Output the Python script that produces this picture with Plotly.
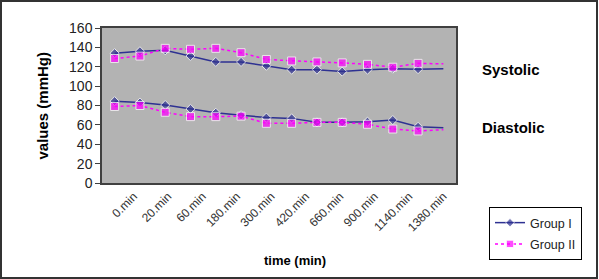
import numpy as np
import plotly.graph_objects as go

# ---- data ----
tick_labels = ["0.min", "20.min", "60.min", "180.min", "300.min", "420.min",
               "660.min", "900.min", "1140.min", "1380.min"]
n_points = 14
g1_systolic = [134, 136, 137, 131, 125, 125, 121, 117, 117, 115, 117, 118, 117.5, 118]
g2_systolic = [128.5, 131, 139, 138, 139, 134.5, 127.5, 126, 125, 124, 122.5, 119.5, 123.5, 123]
g1_diastolic = [84.5, 83, 80.5, 76.5, 72.5, 70, 67.5, 66.7, 62.6, 62.6, 63.3, 65, 58, 57]
g2_diastolic = [79, 80, 73, 68.5, 68.5, 69, 61.6, 61.6, 62.6, 62.6, 60.6, 55.7, 53.7, 55]

x = list(range(n_points))
# last point is only the end of the line (no marker)
navy_sizes = [7] * (n_points - 1) + [0]
mag_sizes = [8] * (n_points - 1) + [0]

NAVY = "#2e3192"
MAG = "#ff00ff"

fig = go.Figure()

def add(series, name, color, dash, symbol, sizes, show):
    fig.add_trace(go.Scatter(
        x=x, y=series, mode="lines+markers", name=name,
        line=dict(color=color, width=1.5, dash=dash),
        marker=dict(symbol=symbol, size=sizes, color=color),
        showlegend=show, legendgroup=name))

add(g1_systolic, "Group I", NAVY, "solid", "diamond", navy_sizes, True)
add(g2_systolic, "Group II", MAG, "dot", "square", mag_sizes, True)
add(g1_diastolic, "Group I", NAVY, "solid", "diamond", navy_sizes, False)
add(g2_diastolic, "Group II", MAG, "dot", "square", mag_sizes, False)

L, R, T, B = 102, 143, 28, 96
W, H = 599, 279
pw, ph = W - L - R, H - T - B

tickvals = list(np.linspace(0.75, 13.0, len(tick_labels)))

fig.update_layout(
    width=W, height=H,
    margin=dict(l=L, r=R, t=T, b=B, pad=0, autoexpand=False),
    paper_bgcolor="white",
    plot_bgcolor="#b3b3b3",
    font=dict(family="Liberation Sans, Arial, sans-serif", color="black"),
    xaxis=dict(range=[-0.5, n_points - 0.5], tickvals=tickvals, ticktext=tick_labels,
               tickangle=-45, tickfont=dict(size=12, color="#333"), showgrid=False,
               zeroline=False, showline=True, linecolor="#404040", linewidth=1.5,
               mirror=True, ticks="", automargin=False),
    yaxis=dict(range=[0, 160], tickvals=list(range(0, 161, 20)),
               tickfont=dict(size=14, color="#222"), showgrid=False, zeroline=False,
               showline=True, linecolor="#404040", linewidth=1.5, mirror=True,
               ticks="outside", ticklen=5, tickcolor="#404040", automargin=False),
    legend=dict(x=(489 - L) / pw, y=(183 - 207) / ph, xanchor="left", yanchor="top",
                bgcolor="white", bordercolor="black", borderwidth=1,
                font=dict(size=12.5, color="#222"), tracegroupgap=2),
    showlegend=True,
)

fig.add_annotation(text="<b>values (mmHg)</b>", x=(42 - L) / pw, y=0.5, xref="paper", yref="paper",
                   textangle=-90, showarrow=False, font=dict(size=15), xanchor="center", yanchor="middle")
fig.add_annotation(text="<b>time (min)</b>", x=(295 - L) / pw, y=(183 - 260) / ph, xref="paper", yref="paper",
                   showarrow=False, font=dict(size=13), xanchor="center", yanchor="middle")
fig.add_annotation(text="<b>Systolic</b>", x=(480 - L) / pw, y=(183 - 69) / ph, xref="paper", yref="paper",
                   showarrow=False, font=dict(size=15), xanchor="left", yanchor="middle")
fig.add_annotation(text="<b>Diastolic</b>", x=(480 - L) / pw, y=(183 - 127) / ph, xref="paper", yref="paper",
                   showarrow=False, font=dict(size=15), xanchor="left", yanchor="middle")

fig.add_shape(type="rect", xref="paper", yref="paper",
              x0=-(L - 1) / pw, x1=1 + (R - 2) / pw, y0=-(B - 1) / ph, y1=1 + (T - 1) / ph,
              line=dict(color="#333333", width=2), layer="below")

fig.write_html("out.html", config={"displayModeBar": False},
               post_script="document.body.style.margin='0';")
